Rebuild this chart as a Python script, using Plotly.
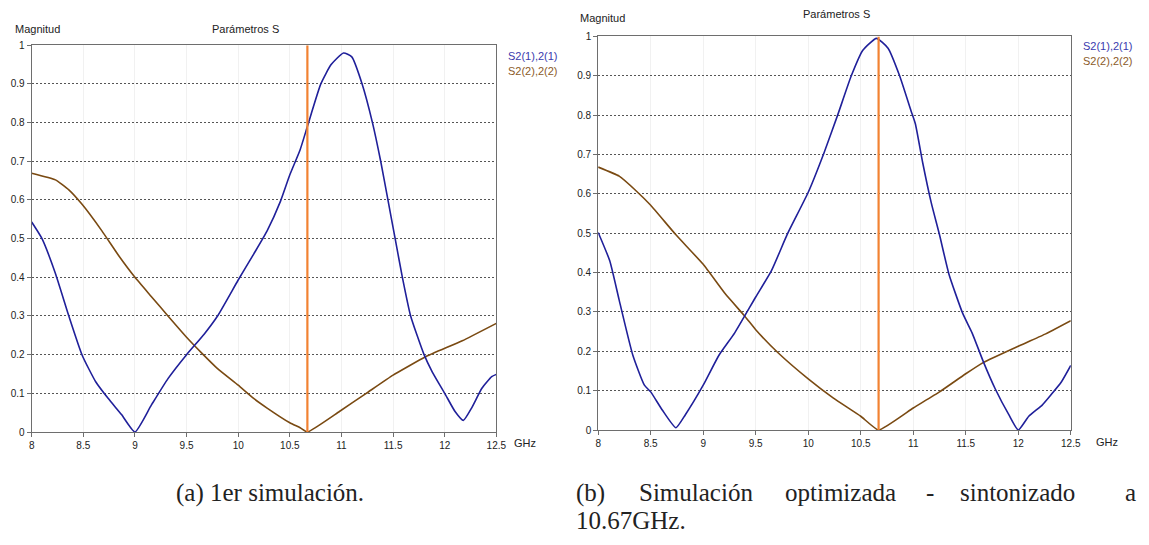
import plotly.graph_objects as go

# ---------------- data ----------------
marker_freq = 10.67

# (a) 1er simulación
a_s21_x = [8.0, 8.1, 8.23, 8.36, 8.49, 8.62, 8.74, 8.87, 9.0, 9.16, 9.32, 9.5, 9.67, 9.80, 10.0, 10.15,
           10.28, 10.41, 10.5, 10.6, 10.67, 10.8, 10.9, 11.02, 11.1, 11.2, 11.3, 11.38, 11.45, 11.52,
           11.59, 11.67, 11.8, 11.88, 12.0, 12.1, 12.18, 12.26, 12.36, 12.455, 12.5]
a_s21_y = [0.543, 0.50, 0.41, 0.30, 0.198, 0.13, 0.087, 0.045, 0.0, 0.07, 0.138, 0.2, 0.253, 0.30, 0.393, 0.46,
           0.52, 0.597, 0.665, 0.73, 0.79, 0.9, 0.95, 0.98, 0.97, 0.9, 0.80, 0.70, 0.60, 0.50,
           0.40, 0.30, 0.20, 0.155, 0.10, 0.053, 0.03, 0.062, 0.113, 0.143, 0.149]
a_s22_x = [8.0, 8.23, 8.36, 8.49, 8.68, 8.84, 9.0, 9.16, 9.32, 9.5, 9.64, 9.80, 10.0, 10.15, 10.28,
           10.5, 10.6, 10.67, 10.98, 11.24, 11.5, 11.81, 12.17, 12.5]
a_s22_y = [0.669, 0.652, 0.626, 0.588, 0.52, 0.457, 0.40, 0.35, 0.30, 0.245, 0.206, 0.164, 0.121, 0.087, 0.062,
           0.024, 0.011, 0.0, 0.053, 0.10, 0.147, 0.194, 0.236, 0.281]

# (b) Simulación optimizada
b_s21_x = [8.0, 8.11, 8.20, 8.33, 8.44, 8.5, 8.61, 8.74, 8.83, 9.0, 9.15, 9.30, 9.5, 9.65, 9.80, 10.0,
           10.15, 10.28, 10.41, 10.52, 10.65, 10.76, 10.87, 10.98, 11.02, 11.09, 11.17, 11.25, 11.34,
           11.47, 11.56, 11.67, 11.78, 11.91, 12.0, 12.1, 12.23, 12.31, 12.41, 12.5]
b_s21_y = [0.502, 0.43, 0.33, 0.19, 0.114, 0.097, 0.051, 0.006, 0.039, 0.114, 0.19, 0.247, 0.338, 0.405, 0.497, 0.604,
           0.704, 0.80, 0.90, 0.965, 0.995, 0.97, 0.90, 0.81, 0.778, 0.679, 0.579, 0.496, 0.396,
           0.297, 0.247, 0.172, 0.105, 0.039, 0.0, 0.035, 0.064, 0.089, 0.122, 0.164]
b_s22_x = [8.0, 8.20, 8.36, 8.5, 8.74, 9.0, 9.21, 9.40, 9.5, 9.71, 10.0, 10.24, 10.5, 10.67,
           11.0, 11.25, 11.5, 11.67, 12.0, 12.25, 12.5]
b_s22_y = [0.668, 0.645, 0.608, 0.571, 0.496, 0.421, 0.346, 0.288, 0.255, 0.197, 0.130, 0.081, 0.035, 0.0,
           0.056, 0.097, 0.143, 0.172, 0.213, 0.243, 0.278]

series_names = ["S2(1),2(1)", "S2(2),2(2)"]
x_tick_vals = [8, 8.5, 9, 9.5, 10, 10.5, 11, 11.5, 12, 12.5]
y_tick_vals = [0, 0.1, 0.2, 0.3, 0.4, 0.5, 0.6, 0.7, 0.8, 0.9, 1]

# ---------------- styling ----------------
W, H = 1149, 545
BLUE = "#20209a"
BROWN = "#7a4a12"
ORANGE = "#f28232"
BLUE_TXT = "#3a3aae"
BROWN_TXT = "#8a5a28"
SANS = "Liberation Sans, Arial, sans-serif"
SERIF = "Liberation Serif, DejaVu Serif, serif"

def px_x(p):
    return p / W

def px_y(p):
    return 1 - p / H

fig = go.Figure()

panels = [
    dict(xa="x", ya="y", s21=(a_s21_x, a_s21_y), s22=(a_s22_x, a_s22_y)),
    dict(xa="x2", ya="y2", s21=(b_s21_x, b_s21_y), s22=(b_s22_x, b_s22_y)),
]
for p in panels:
    fig.add_trace(go.Scatter(x=p["s22"][0], y=p["s22"][1], mode="lines", name=series_names[1],
                             line=dict(color=BROWN, width=1.6, shape="spline", smoothing=0.4),
                             xaxis=p["xa"], yaxis=p["ya"], showlegend=False, cliponaxis=True))
    fig.add_trace(go.Scatter(x=p["s21"][0], y=p["s21"][1], mode="lines", name=series_names[0],
                             line=dict(color=BLUE, width=1.6, shape="spline", smoothing=0.5),
                             xaxis=p["xa"], yaxis=p["ya"], showlegend=False, cliponaxis=True))
    fig.add_trace(go.Scatter(x=[marker_freq, marker_freq], y=[0, 1], mode="lines",
                             line=dict(color=ORANGE, width=2.2), xaxis=p["xa"], yaxis=p["ya"],
                             showlegend=False, hoverinfo="skip"))

axis_common = dict(
    showline=True, mirror=True, linecolor="#6e6e6e", linewidth=1,
    ticks="outside", ticklen=4, tickcolor="#6e6e6e",
    tickfont=dict(family=SANS, size=10, color="#222"),
    zeroline=False, fixedrange=True,
)
xcommon = dict(axis_common, range=[8, 12.5], tickvals=x_tick_vals,
               showgrid=True, gridcolor="#f1f1f1", gridwidth=1)
ycommon = dict(axis_common, range=[0, 1], tickvals=y_tick_vals,
               showgrid=True, gridcolor="#555555", griddash="2px,2px", gridwidth=1)

# pixel layout of each plot area
L = dict(x0=29, x1=499, ytop=41, ybot=435)
R = dict(x0=602, x1=1080, ytop=32, ybot=433)

fig.update_layout(
    width=W, height=H,
    margin=dict(l=0, r=0, t=0, b=0),
    paper_bgcolor="white", plot_bgcolor="white",
    xaxis=dict(xcommon, domain=[px_x(L["x0"]), px_x(L["x1"])], anchor="y"),
    yaxis=dict(ycommon, domain=[px_y(L["ybot"]), px_y(L["ytop"])], anchor="x"),
    xaxis2=dict(xcommon, domain=[px_x(R["x0"]), px_x(R["x1"])], anchor="y2"),
    yaxis2=dict(ycommon, domain=[px_y(R["ybot"]), px_y(R["ytop"])], anchor="x2"),
)

ann = []
def text(x, y, s, size=11, color="#222", family=SANS, xanchor="left"):
    ann.append(dict(x=px_x(x), y=px_y(y), xref="paper", yref="paper", text=s, showarrow=False,
                    xanchor=xanchor, yanchor="middle", font=dict(family=family, size=size, color=color)))

# left panel texts
text(10, 24, "Magnitud", size=11)
text(245, 24, "Parámetros S", size=11, xanchor="center")
text(509, 52, series_names[0], size=11, color=BLUE_TXT)
text(509, 67, series_names[1], size=11, color=BROWN_TXT)
text(515, 446, "GHz", size=11)
# right panel texts
text(582, 13, "Magnitud", size=11)
text(843, 9, "Parámetros S", size=11, xanchor="center")
text(1090, 42, series_names[0], size=11, color=BLUE_TXT)
text(1090, 57, series_names[1], size=11, color=BROWN_TXT)
text(1103, 445, "GHz", size=11)

# captions
text(270, 497, "(a) 1er simulación.", size=25, family=SERIF, xanchor="center")
cap_b_words = [(578, "(b)"), (641, "Simulación"), (789, "optimizada"), (932, "-"),
               (966, "sintonizado"), (1133, "a")]
for xw, w in cap_b_words:
    text(xw, 497, w, size=25, family=SERIF)
text(578, 525, "10.67GHz.", size=25, family=SERIF)

fig.update_layout(annotations=ann)
fig.write_html("out.html", config={"displayModeBar": False},
               post_script="document.body.style.margin='0';document.body.style.overflow='hidden';")
